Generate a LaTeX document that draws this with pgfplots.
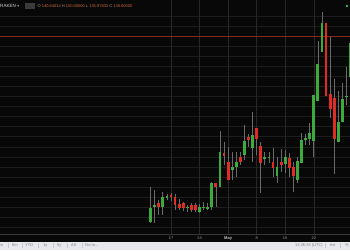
\documentclass[border=0pt]{standalone}
\usepackage{pgfplots}
\pgfplotsset{compat=1.18}
\usepackage{pgfplotstable}
\usepackage{fontspec}
\setmainfont{Liberation Sans}
\newfontfamily\dejavu{DejaVu Sans}
\definecolor{bg}{HTML}{080808}
\definecolor{hgrid}{HTML}{1D1D1D}
\definecolor{vgrid}{HTML}{282828}
\definecolor{upc}{HTML}{3DAA3D}
\definecolor{dnc}{HTML}{E02D23}
\definecolor{wick}{HTML}{6A6A6A}
\definecolor{redline}{HTML}{8A2A1E}
\definecolor{numc}{HTML}{D06A3A}
\definecolor{labc}{HTML}{9A9A9A}
\definecolor{barbg}{HTML}{E6E8EB}
\definecolor{bartxt}{HTML}{808080}
\definecolor{sepc}{HTML}{383838}
\definecolor{maylab}{HTML}{C8C8C8}
\definecolor{barsep}{HTML}{C8CACE}
\definecolor{headtxt}{HTML}{D2D2D2}
\definecolor{headbox}{HTML}{3A3A3A}

% d = day offset from 17 April; o h l c = open high low close (chart units)
\pgfplotstableread{
d o h l c
-5 28.3 63.3 27.3 41.7
-4 43.5 60 27.5 45.5
-2 43 58 35.5 52.7
-1 52.5 56 50 54.5
4 42 45.5 38.3 43.3
7 38 46 37.3 43.5
8 42 48 40 43.5
9 41.5 47 40 43
10 43.3 68.3 40 67.3
12 63.3 119 63.3 97.7
15 80 98.3 70 83.3
16 82.7 98.3 73.3 88.3
18 95 125 90 108.7
20 102.2 138.3 88.3 115.3
23 91 98.3 85 93
24 91.7 98.3 86.7 93
26 74.3 93 67.3 83.3
28 86 100 77 93.3
31 70 93.3 66.7 89.3
32 87.3 116.7 86.7 110
33 110 115.7 105 112
34 110.7 127.3 105 117.3
35 109.3 155 93.3 155
36 149 209.3 149 186
37 197.7 238.3 197.7 226.7
41 108.3 159.3 108.3 128.3
42 128.3 166.7 128.3 151
43 153.3 183.3 145 154.3
44 173.3 207 173.3 207
}\up

\pgfplotstableread{
d o h l c
-3 46.7 50 35.5 43
0 55 56.7 49.3 53.3
1 52.8 56.3 40 45.3
2 45.7 51 40 42.3
3 46.7 48.3 39 42
5 44.8 46.7 38.3 40
6 44.8 46.7 38 39.7
11 66.7 67.3 43.3 63.3
13 96.7 107.7 85 94.3
14 87.7 103.3 70 70
17 93.3 97.7 85 88.3
19 113 116 103 110.3
21 121.7 121.7 95 110.7
22 103.7 108.3 57 87.3
25 88 101.7 73.3 82.5
27 88 101.5 78 85.5
29 91.7 96.7 73.3 82.3
30 82.7 88.3 57.7 74.3
38 227.3 227.3 154 154
39 155.7 213.3 131.7 141
40 151.7 171 75.7 110.7
}\down

\pgfplotsset{
  wickplot/.style={forget plot, no markers,
    quiver={u=0, v={\thisrow{h}-\thisrow{l}},
      every arrow/.append style={line width=0.75pt, draw=wick, -}},
    draw=wick, line width=0.75pt, -},
  bodyplot/.style={forget plot, no markers,
    quiver={u=0, v={max(abs(\thisrow{c}-\thisrow{o}),1.4)},
      every arrow/.append style={line width=2.8pt, draw=#1, -}},
    draw=#1, line width=2.8pt, -},
}

\begin{document}
\begin{tikzpicture}
\begin{axis}[
  at={(0,0)}, anchor=south west,
  width=350pt, height=250pt, scale only axis,
  xmin=0, xmax=350, ymin=0, ymax=250,
  hide axis, clip=true,
]
% background
\fill[bg] (axis cs:0,0) rectangle (axis cs:350,250);
% grid
\pgfplotsinvokeforeach{0,...,21}{
  \draw[hgrid, line width=0.6pt] (axis cs:0,{22.7+10.06*#1}) -- (axis cs:350,{22.7+10.06*#1});
}
\pgfplotsinvokeforeach{0,7,14,21,28,35}{
  \draw[vgrid, line width=0.6pt] (axis cs:{171+4.08*#1},15.7) -- (axis cs:{171+4.08*#1},250);
}
% price line
\draw[redline, line width=0.6pt] (axis cs:0,214) -- (axis cs:350,214);

% wicks
\addplot[wickplot] table[x expr=171+4.08*\thisrow{d}, y=l] {\up};
\addplot[wickplot] table[x expr=171+4.08*\thisrow{d}, y=l] {\down};
% bodies
\addplot[bodyplot=upc] table[x expr=171+4.08*\thisrow{d},
  y expr={(\thisrow{o}+\thisrow{c})/2-max(abs(\thisrow{c}-\thisrow{o}),1.4)/2}] {\up};
\addplot[bodyplot=dnc] table[x expr=171+4.08*\thisrow{d},
  y expr={(\thisrow{o}+\thisrow{c})/2-max(abs(\thisrow{c}-\thisrow{o}),1.4)/2}] {\down};

% label strip
\fill[bg] (axis cs:0,8.3) rectangle (axis cs:350,15.7);
\draw[sepc, line width=0.5pt] (axis cs:0,15.7) -- (axis cs:350,15.7);
\begin{scope}[every node/.style={inner sep=0pt, text=labc, font=\fontsize{4}{4.5}\selectfont}]
\node at (axis cs:171,11.7) {17};
\node at (axis cs:199.6,11.7) {24};
\node[text=maylab] at (axis cs:228.1,11.7) {\bfseries May};
\node at (axis cs:256.7,11.7) {8};
\node at (axis cs:285.2,11.7) {15};
\node at (axis cs:313.8,11.7) {22};
\end{scope}

% bottom bar
\fill[barbg] (axis cs:0,0) rectangle (axis cs:350,8.3);
\begin{scope}[every node/.style={inner sep=0pt, anchor=west, text=bartxt, font=\fontsize{4}{4.5}\selectfont}]
\node at (axis cs:-0.5,4.7) {m};
\node at (axis cs:12,4.7) {6m};
\node at (axis cs:25,4.7) {YTD};
\node at (axis cs:43,4.7) {1y};
\node at (axis cs:57,4.7) {5y};
\node at (axis cs:71,4.7) {All};
\node at (axis cs:85,4.7) {Go to...};
\node at (axis cs:295,4.7) {13:26:35 (UTC)};
\node at (axis cs:330,4.7) {ext};
\node at (axis cs:345,4.7) {\%};
\end{scope}
\pgfplotsinvokeforeach{8,22,38,53,67,82,325,340}{
  \draw[barsep, line width=0.4pt] (axis cs:#1,2.3) -- (axis cs:#1,7);
}

% header
\node[inner sep=0pt, anchor=west, text=headtxt]
  at (axis cs:0,244.3) {\fontsize{4.6}{5}\selectfont RAKEN {\dejavu\fontsize{3.5}{4}\selectfont ▾}};
\fill[headbox] (axis cs:25,241.5) rectangle (axis cs:35,247.3);
\node[inner sep=0pt, anchor=west] at (axis cs:37.5,244.3)
  {\fontsize{4}{4.5}\selectfont\color{labc}O \color{numc}140.64014 \color{labc}H \color{numc}150.00000 \color{labc}L \color{numc}135.97833 \color{labc}C \color{numc}139.00000};
\fill[upc] (axis cs:346,243.3) rectangle (axis cs:348,245);
\end{axis}
\end{tikzpicture}
\end{document}
